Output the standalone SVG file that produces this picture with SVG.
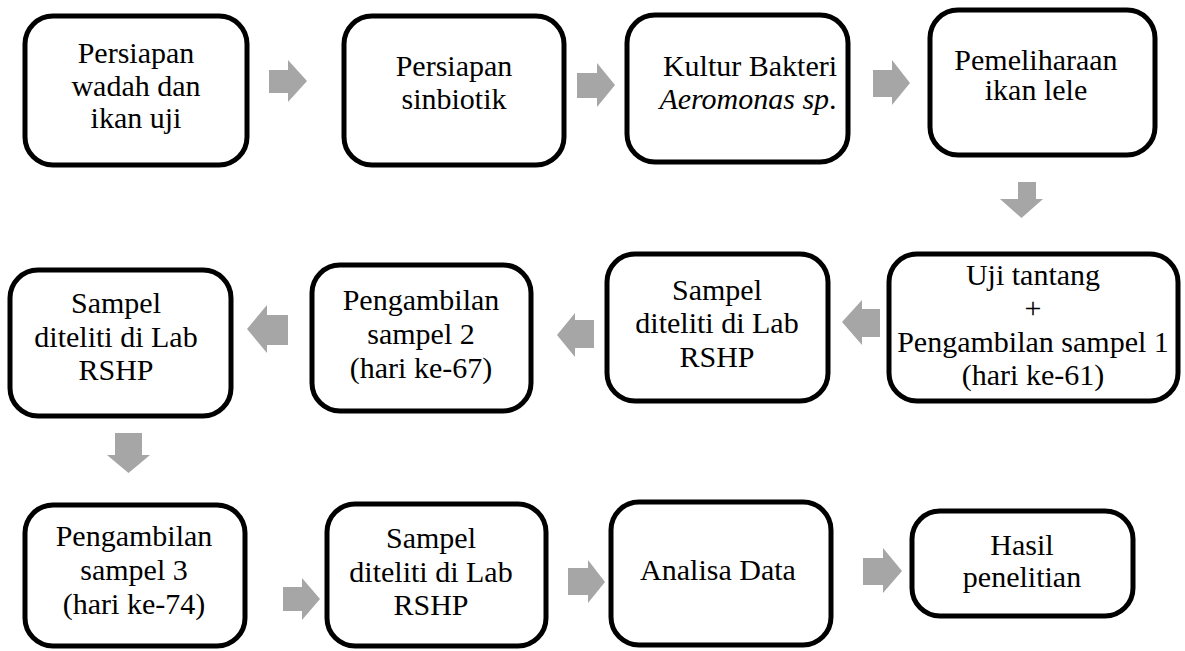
<svg xmlns="http://www.w3.org/2000/svg" width="1185" height="651" viewBox="0 0 1185 651">
<style>
.box{fill:#fff;stroke:#000;stroke-width:5}
.t{font-family:"Liberation Serif","Times New Roman",serif;font-size:30px;fill:#000;text-anchor:middle}
.arr{fill:#a6a6a6;stroke:none}
</style>
<rect width="1185" height="651" fill="#fff"/>
<g id="connectors">
<polygon class="arr" points="269,70 288,70 288,60 307,81 288,102 288,93 269,93"/>
<polygon class="arr" points="577,73 597,73 597,63 615,85 597,107 597,98 577,98"/>
<polygon class="arr" points="873,70 892,70 892,60 910,83 892,105 892,97 873,97"/>
<polygon class="arr" points="1018,182 1036,182 1036,199 1043,199 1021.5,218 1000,199 1018,199"/>
<polygon class="arr" points="880,309 862,309 862,300 842,322 862,345 862,337 880,337"/>
<polygon class="arr" points="594,320 575,320 575,313 557,335 575,357 575,348 594,348"/>
<polygon class="arr" points="288,315 267,315 267,305 247,329 267,353 267,345 288,345"/>
<polygon class="arr" points="115,433 142,433 142,455 150,455 128.5,473 107,455 115,455"/>
<polygon class="arr" points="283,587 302,587 302,578 320,599 302,620 302,611 283,611"/>
<polygon class="arr" points="568,568 588,568 588,560 605,582 588,603 588,595 568,595"/>
<polygon class="arr" points="863,558 883,558 883,548 902,571 883,593 883,585 863,585"/>
</g>
<g id="n1"><rect class="box" x="25" y="16" width="222" height="149" rx="28"/>
<text class="t" x="136" y="63">Persiapan</text><text class="t" x="136" y="96">wadah dan</text><text class="t" x="136" y="128">ikan uji</text></g>
<g id="n2"><rect class="box" x="344" y="16" width="220" height="149" rx="28"/>
<text class="t" x="454" y="76">Persiapan</text><text class="t" x="454" y="109">sinbiotik</text></g>
<g id="n3"><rect class="box" x="627" y="15" width="221" height="147" rx="28"/>
<text class="t" x="750" y="76">Kultur Bakteri</text><text class="t" x="748" y="109"><tspan font-style="italic">Aeromonas sp</tspan>.</text></g>
<g id="n4"><rect class="box" x="930" y="10" width="225" height="145" rx="28"/>
<text class="t" x="1036" y="70">Pemeliharaan</text><text class="t" x="1036" y="100">ikan lele</text></g>
<g id="n5"><rect class="box" x="889" y="254" width="289" height="147" rx="28"/>
<text class="t" x="1033" y="285">Uji tantang</text><text class="t" x="1033" y="318">+</text><text class="t" x="1033" y="352">Pengambilan sampel 1</text><text class="t" x="1033" y="385">(hari ke-61)</text></g>
<g id="n6"><rect class="box" x="607" y="254" width="221" height="147" rx="28"/>
<text class="t" x="717" y="300">Sampel</text><text class="t" x="717" y="333">diteliti di Lab</text><text class="t" x="717" y="367">RSHP</text></g>
<g id="n7"><rect class="box" x="312" y="265" width="219" height="146" rx="28"/>
<text class="t" x="421" y="310">Pengambilan</text><text class="t" x="421" y="344">sampel 2</text><text class="t" x="421" y="378">(hari ke-67)</text></g>
<g id="n8"><rect class="box" x="10" y="270" width="221" height="146" rx="28"/>
<text class="t" x="116" y="313">Sampel</text><text class="t" x="116" y="347">diteliti di Lab</text><text class="t" x="116" y="380">RSHP</text></g>
<g id="n9"><rect class="box" x="25" y="505" width="220" height="141" rx="28"/>
<text class="t" x="134" y="546">Pengambilan</text><text class="t" x="134" y="580">sampel 3</text><text class="t" x="134" y="614">(hari ke-74)</text></g>
<g id="n10"><rect class="box" x="327" y="504" width="219" height="142" rx="28"/>
<text class="t" x="431" y="548">Sampel</text><text class="t" x="431" y="582">diteliti di Lab</text><text class="t" x="431" y="615">RSHP</text></g>
<g id="n11"><rect class="box" x="611" y="502" width="220" height="143" rx="28"/>
<text class="t" x="718" y="580">Analisa Data</text></g>
<g id="n12"><rect class="box" x="912" y="511" width="221" height="105" rx="28"/>
<text class="t" x="1022" y="555">Hasil</text><text class="t" x="1022" y="587">penelitian</text></g>
</svg>
